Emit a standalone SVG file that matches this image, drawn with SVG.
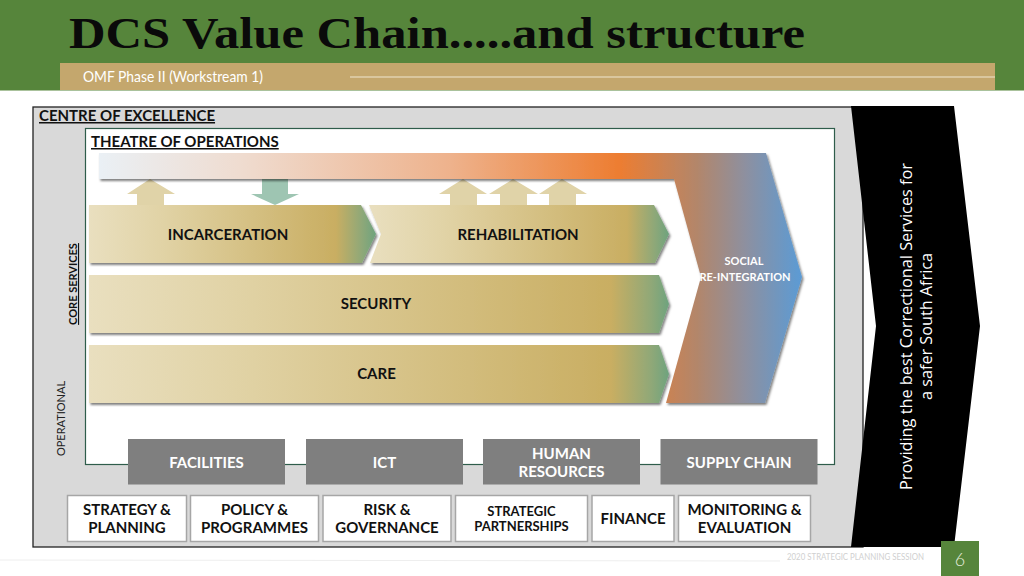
<svg xmlns="http://www.w3.org/2000/svg" width="1024" height="576" viewBox="0 0 1024 576">
<style>
text{font-family:Lato,"Liberation Sans",sans-serif}
.b{font-weight:700;fill:#111}
.c{text-anchor:middle}
.g{fill:#7f7f7f}
.w{fill:#fff}
.gl{font-weight:700;fill:#fff;font-size:15px;text-anchor:middle}
.bx{fill:#fff;stroke:#a6a6a6;stroke-width:1.5}
.bl{font-weight:700;fill:#111;font-size:15px;text-anchor:middle}
.side{font-family:"Open Sans","Liberation Sans",sans-serif;fill:#fff;font-size:16px;text-anchor:middle}
.up{fill:#e0d3a8}
</style>
<defs>
<linearGradient id="gold"><stop offset="0" stop-color="#e9dfbf"/><stop offset=".25" stop-color="#e1d3a6"/><stop offset=".86" stop-color="#c9ae62"/><stop offset=".95" stop-color="#8fa878"/><stop offset="1" stop-color="#6ea37e"/></linearGradient>
<linearGradient id="gold2"><stop offset="0" stop-color="#e9dfbf"/><stop offset=".25" stop-color="#e1d3a6"/><stop offset=".9" stop-color="#c9ae62"/><stop offset=".97" stop-color="#8fa878"/><stop offset="1" stop-color="#6ea37e"/></linearGradient>
<linearGradient id="bend" gradientUnits="userSpaceOnUse" x1="99" y1="0" x2="802" y2="0"><stop offset="0" stop-color="#eaf0f5"/><stop offset=".2" stop-color="#efdcd0"/><stop offset=".5" stop-color="#eeb28c"/><stop offset=".74" stop-color="#ed7d31"/><stop offset=".85" stop-color="#b3866a"/><stop offset=".92" stop-color="#8d90a0"/><stop offset="1" stop-color="#5b9bd5"/></linearGradient>
<filter id="sh" x="-5%" y="-10%" width="110%" height="125%"><feDropShadow dx="1.500" dy="2" stdDeviation="1.200" flood-color="#000" flood-opacity=".5"/></filter>
</defs>
<rect width="1024" height="576" fill="#fff"/>
<g id="header">
<rect width="1024" height="90.500" fill="#56853b"/>
<rect x="60" y="63" width="935" height="27" fill="#c4a76d"/>
<line x1="350" y1="77" x2="995" y2="77" stroke="#efe6d0" stroke-width="1"/>
<text x="69" y="47.500" textLength="736" lengthAdjust="spacingAndGlyphs" style="font-family:'Liberation Serif',serif;font-weight:700;font-size:45px;fill:#0a0a0a">DCS Value Chain.....and structure</text>
<text x="83" y="82" style="font-size:15px;fill:#fff;font-weight:400" textLength="180" lengthAdjust="spacingAndGlyphs">OMF Phase II (Workstream 1)</text>
</g>
<g id="centre">
<rect x="33" y="107" width="830" height="440" fill="#d9d9d9" stroke="#222" stroke-width="1.300"/>
<text x="39" y="121" class="b" font-size="15" text-decoration="underline">CENTRE OF EXCELLENCE</text>
</g>
<g id="theatre">
<rect x="85.500" y="128.500" width="749" height="336" fill="#fff" stroke="#2f5d4b" stroke-width="1.200"/>
<text x="91" y="147" class="b" font-size="15" text-decoration="underline">THEATRE OF OPERATIONS</text>
</g>
<g id="value-proposition">
<polygon points="851,106 954,106 980,326 954,547 851,547 876,326" fill="#000"/>
<text transform="translate(912 326.500) rotate(-90)" class="side" textLength="327" lengthAdjust="spacingAndGlyphs">Providing the best Correctional Services for</text>
<text transform="translate(932 326.500) rotate(-90)" class="side" textLength="147" lengthAdjust="spacingAndGlyphs">a safer South Africa</text>
</g>
<g id="labels">
<text transform="translate(77 284) rotate(-90)" class="b c" font-size="11" text-decoration="underline">CORE SERVICES</text>
<text transform="translate(65 418.500) rotate(-90)" class="c" font-size="11" fill="#222">OPERATIONAL</text>
</g>
<g id="arrows">
<polygon class="up" points="150,179 175,194 164,194 164,205 137,205 137,194 127,194"/>
<polygon fill="#9ec5b2" points="262,179 288,179 288,194 299,194 275,205 251,194 262,194"/>
<polygon class="up" points="463,179 487,194 477,194 477,205 450,205 450,194 439,194"/>
<polygon class="up" points="513,179 538,194 527,194 527,205 500,205 500,194 489,194"/>
<polygon class="up" points="562,179 587,194 576,194 576,205 549,205 549,194 539,194"/>
</g>
<g id="social-reintegration">
<polygon points="99,153 766,153 802,277 765,403 666,403 701,277 674,179 99,179" fill="url(#bend)" filter="url(#sh)"/>
<text x="744" y="265" class="c" font-weight="700" font-size="11" fill="#fff">SOCIAL</text>
<text x="745" y="281" class="c" font-weight="700" font-size="11" fill="#fff">RE-INTEGRATION</text>
</g>
<g id="incarceration">
<polygon points="89,205 361,205 376,234 362,263 89,263" fill="url(#gold)" filter="url(#sh)"/>
<text x="228" y="239.500" class="bl">INCARCERATION</text>
</g>
<g id="rehabilitation">
<polygon points="369,205 654,205 669,234 655,263 370,263 381,234" fill="url(#gold)" filter="url(#sh)"/>
<text x="518" y="239.500" class="bl">REHABILITATION</text>
</g>
<g id="security">
<polygon points="89,275 659,275 669,304 659,333 89,333" fill="url(#gold2)" filter="url(#sh)"/>
<text x="376" y="309" class="bl">SECURITY</text>
</g>
<g id="care">
<polygon points="89,345 659,345 669,374 659,403 89,403" fill="url(#gold2)" filter="url(#sh)"/>
<text x="376.500" y="379" class="bl">CARE</text>
</g>
<g id="facilities"><rect class="g" x="128" y="439" width="157" height="45.500"/><text class="gl" x="206.500" y="467.500">FACILITIES</text></g>
<g id="ict"><rect class="g" x="306" y="439" width="157" height="45.500"/><text class="gl" x="384.500" y="467.500">ICT</text></g>
<g id="human-resources"><rect class="g" x="483" y="439" width="157" height="45.500"/><text class="gl" x="561.500" y="458.500">HUMAN</text><text class="gl" x="561.500" y="476.500">RESOURCES</text></g>
<g id="supply-chain"><rect class="g" x="660.500" y="439" width="157" height="45.500"/><text class="gl" x="739" y="467.500">SUPPLY CHAIN</text></g>
<g id="strategy"><rect class="bx" x="67.500" y="495.500" width="119" height="46"/><text class="bl" x="127" y="515">STRATEGY &amp;</text><text class="bl" x="127" y="533">PLANNING</text></g>
<g id="policy"><rect class="bx" x="190.500" y="495.500" width="128" height="46"/><text class="bl" x="254.500" y="515">POLICY &amp;</text><text class="bl" x="254.500" y="533">PROGRAMMES</text></g>
<g id="risk"><rect class="bx" x="323" y="495.500" width="128" height="46"/><text class="bl" x="387" y="515">RISK &amp;</text><text class="bl" x="387" y="533">GOVERNANCE</text></g>
<g id="partnerships"><rect class="bx" x="455.500" y="495.500" width="132" height="46"/><text class="bl" x="521.500" y="516" style="font-size:13px">STRATEGIC</text><text class="bl" x="521.500" y="531" style="font-size:13px">PARTNERSHIPS</text></g>
<g id="finance"><rect class="bx" x="592" y="495.500" width="82" height="46"/><text class="bl" x="633" y="524">FINANCE</text></g>
<g id="monitoring"><rect class="bx" x="678.500" y="495.500" width="132" height="46"/><text class="bl" x="744.500" y="515">MONITORING &amp;</text><text class="bl" x="744.500" y="533">EVALUATION</text></g>
<g id="footer">
<line x1="0" y1="560" x2="780" y2="561" stroke="#eeeeee"/>
<text x="787" y="560" font-size="9.500" fill="#d0d0d0" textLength="137" lengthAdjust="spacingAndGlyphs">2020 STRATEGIC PLANNING SESSION</text>
<rect x="941" y="541" width="38" height="35" fill="#56853b"/>
<text x="960" y="565.500" class="c" font-size="18" font-weight="300" fill="#e4ecdc">6</text>
</g>
</svg>
